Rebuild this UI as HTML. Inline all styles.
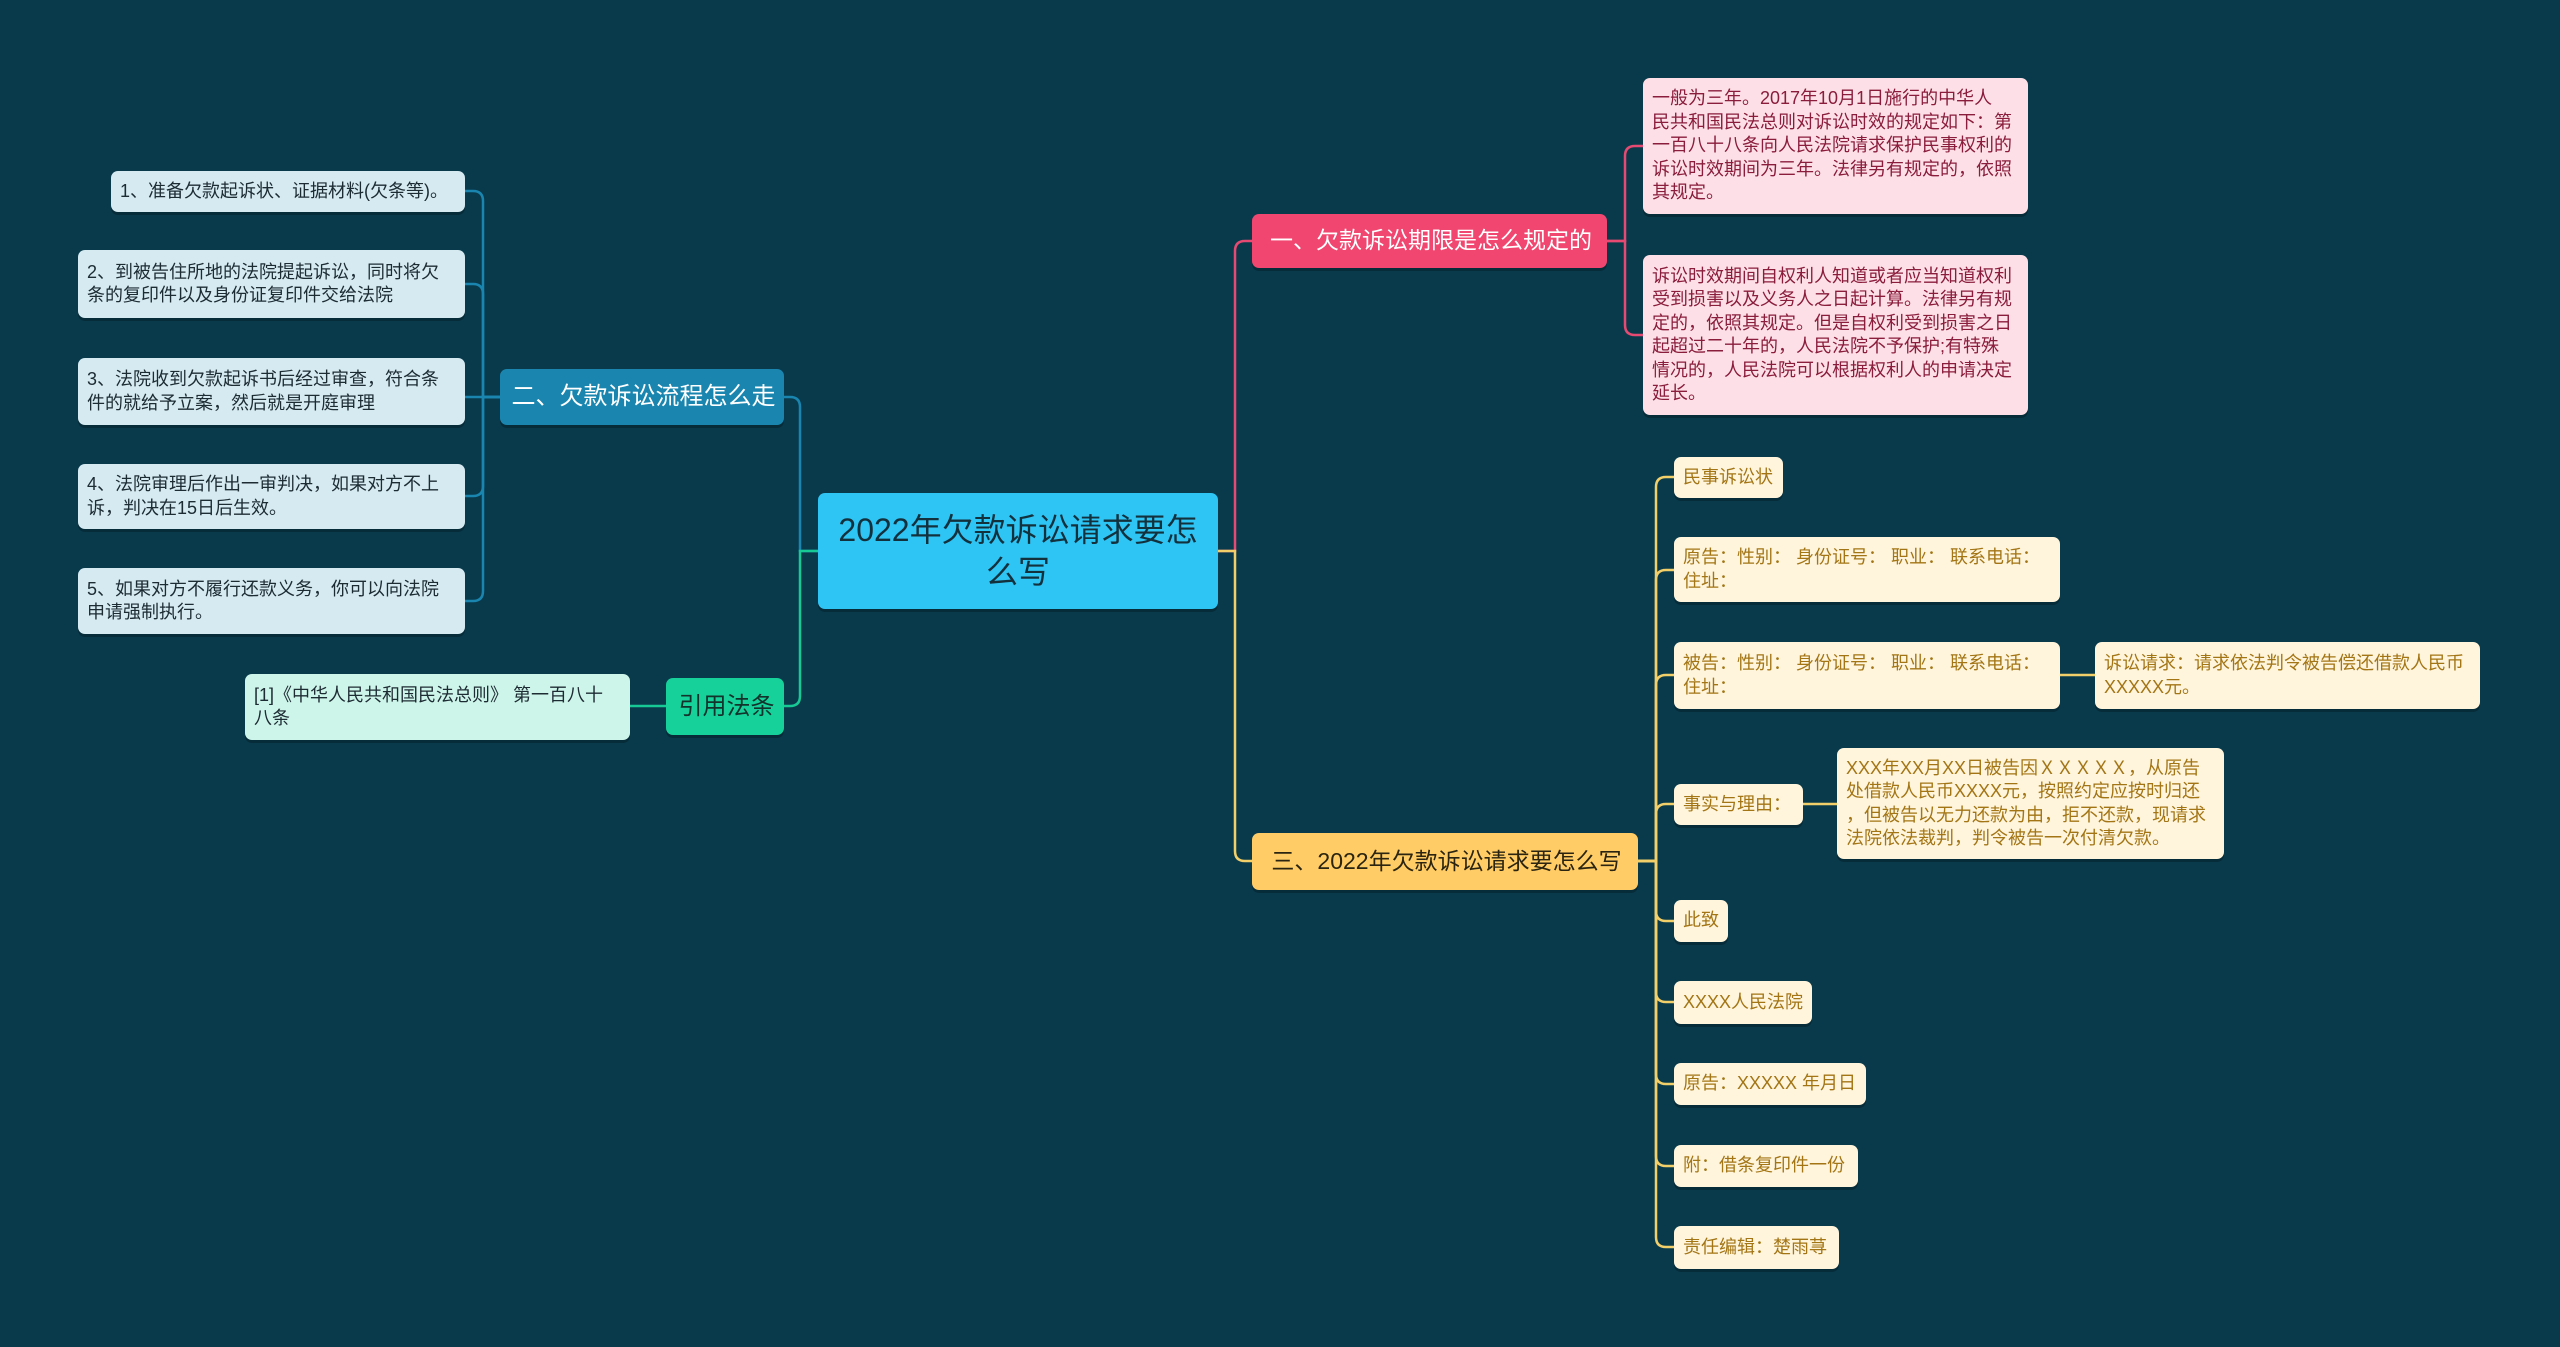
<!DOCTYPE html>
<html><head><meta charset="utf-8"><style>
html,body{margin:0;padding:0}
body{width:2560px;height:1347px;background:#083a4c;position:relative;overflow:hidden;font-family:"Liberation Sans","Noto Sans CJK SC",sans-serif}
.n{position:absolute;box-sizing:border-box;border-radius:7px;display:flex;align-items:center;padding:0 6px 0 9px;font-size:18px;line-height:23.5px;box-shadow:0 3px 0 rgba(0,0,0,0.25);white-space:nowrap;overflow:hidden}
.c{justify-content:center;text-align:center}
.lb{background:#d5eaf1;color:#1d2b33}
.pk{background:#fde0e7;color:#8a1c3c}
.yl{background:#fff5dc;color:#a37515}
svg{position:absolute;left:0;top:0}
</style></head><body>
<svg width="2560" height="1347" fill="none" stroke-width="2.5">
<path d="M1218 551 H1235 V251 Q1235 241 1245 241 H1252" stroke="#e64a72"/>
<path d="M1218 551 H1235 V851 Q1235 861 1245 861 H1252" stroke="#f3cf6a"/>
<path d="M818 551 H800 V407 Q800 397 790 397 H784" stroke="#1a86b0"/>
<path d="M818 551 H800 V696 Q800 706 790 706 H784" stroke="#17c995"/>
<g stroke="#e64a72">
<path d="M1607 241 H1625 V156 Q1625 146 1635 146 H1643"/>
<path d="M1607 241 H1625 V325 Q1625 335 1635 335 H1643"/>
</g>
<g stroke="#f3cf6a">
<path d="M1638 861 H1656 V487 Q1656 477 1666 477 H1674"/>
<path d="M1638 861 H1656 V580 Q1656 570 1666 570 H1674"/>
<path d="M1638 861 H1656 V685 Q1656 675 1666 675 H1674"/>
<path d="M1638 861 H1656 V814 Q1656 804 1666 804 H1674"/>
<path d="M1638 861 H1656 V911 Q1656 921 1666 921 H1674"/>
<path d="M1638 861 H1656 V992 Q1656 1002 1666 1002 H1674"/>
<path d="M1638 861 H1656 V1074 Q1656 1084 1666 1084 H1674"/>
<path d="M1638 861 H1656 V1156 Q1656 1166 1666 1166 H1674"/>
<path d="M1638 861 H1656 V1237 Q1656 1247 1666 1247 H1674"/>
<path d="M2060 675 H2095"/>
<path d="M1803 804 H1837"/>
</g>
<g stroke="#1a86b0">
<path d="M500 397 H483 V201 Q483 191 473 191 H465"/>
<path d="M500 397 H483 V294 Q483 284 473 284 H465"/>
<path d="M500 397 H465"/>
<path d="M500 397 H483 V486 Q483 496 473 496 H465"/>
<path d="M500 397 H483 V591 Q483 601 473 601 H465"/>
</g>
<path d="M666 706 H630" stroke="#17c995"/>
</svg>

<div class="n c" style="left:818px;top:493px;width:400px;height:116px;background:#2ec4f3;color:#13303d;font-size:32px;line-height:42px;padding:0 20px;white-space:normal">2022年欠款诉讼请求要怎么写</div>

<div class="n c" style="left:500px;top:369px;width:284px;height:56px;background:#1a86b0;color:#fff;font-size:24px">二、欠款诉讼流程怎么走</div>
<div class="n lb" style="left:111px;top:171px;width:354px;height:41px">1、准备欠款起诉状、证据材料(欠条等)。</div>
<div class="n lb" style="left:78px;top:250px;width:387px;height:68px">2、到被告住所地的法院提起诉讼，同时将欠<br>条的复印件以及身份证复印件交给法院</div>
<div class="n lb" style="left:78px;top:358px;width:387px;height:67px">3、法院收到欠款起诉书后经过审查，符合条<br>件的就给予立案，然后就是开庭审理</div>
<div class="n lb" style="left:78px;top:464px;width:387px;height:65px">4、法院审理后作出一审判决，如果对方不上<br>诉，判决在15日后生效。</div>
<div class="n lb" style="left:78px;top:568px;width:387px;height:66px">5、如果对方不履行还款义务，你可以向法院<br>申请强制执行。</div>

<div class="n c" style="left:666px;top:678px;width:118px;height:57px;background:#17d19a;color:#12332c;font-size:24px">引用法条</div>
<div class="n" style="left:245px;top:674px;width:385px;height:66px;background:#cef5ea;color:#1d2b33">[1]《中华人民共和国民法总则》 第一百八十<br>八条</div>

<div class="n c" style="left:1252px;top:214px;width:355px;height:54px;background:#f0466f;color:#fff;font-size:23px">一、欠款诉讼期限是怎么规定的</div>
<div class="n pk" style="left:1643px;top:78px;width:385px;height:136px">一般为三年。2017年10月1日施行的中华人<br>民共和国民法总则对诉讼时效的规定如下：第<br>一百八十八条向人民法院请求保护民事权利的<br>诉讼时效期间为三年。法律另有规定的，依照<br>其规定。</div>
<div class="n pk" style="left:1643px;top:255px;width:385px;height:160px">诉讼时效期间自权利人知道或者应当知道权利<br>受到损害以及义务人之日起计算。法律另有规<br>定的，依照其规定。但是自权利受到损害之日<br>起超过二十年的，人民法院不予保护;有特殊<br>情况的，人民法院可以根据权利人的申请决定<br>延长。</div>

<div class="n c" style="left:1252px;top:833px;width:386px;height:57px;background:#ffcc66;color:#2a2410;font-size:23px">三、2022年欠款诉讼请求要怎么写</div>
<div class="n yl" style="left:1674px;top:457px;width:109px;height:41px">民事诉讼状</div>
<div class="n yl" style="left:1674px;top:537px;width:386px;height:65px">原告：性别：&nbsp;身份证号：&nbsp;职业：&nbsp;联系电话：<br>住址：</div>
<div class="n yl" style="left:1674px;top:642px;width:386px;height:67px">被告：性别：&nbsp;身份证号：&nbsp;职业：&nbsp;联系电话：<br>住址：</div>
<div class="n yl" style="left:2095px;top:642px;width:385px;height:67px">诉讼请求：请求依法判令被告偿还借款人民币<br>XXXXX元。</div>
<div class="n yl" style="left:1674px;top:784px;width:129px;height:41px">事实与理由：</div>
<div class="n yl" style="left:1837px;top:748px;width:387px;height:111px">XXX年XX月XX日被告因ＸＸＸＸＸ，从原告<br>处借款人民币XXXX元，按照约定应按时归还<br>，但被告以无力还款为由，拒不还款，现请求<br>法院依法裁判，判令被告一次付清欠款。</div>
<div class="n yl" style="left:1674px;top:900px;width:54px;height:42px">此致</div>
<div class="n yl" style="left:1674px;top:981px;width:138px;height:43px">XXXX人民法院</div>
<div class="n yl" style="left:1674px;top:1063px;width:192px;height:42px">原告：XXXXX 年月日</div>
<div class="n yl" style="left:1674px;top:1145px;width:184px;height:42px">附：借条复印件一份</div>
<div class="n yl" style="left:1674px;top:1226px;width:165px;height:43px">责任编辑：楚雨荨</div>
</body></html>
